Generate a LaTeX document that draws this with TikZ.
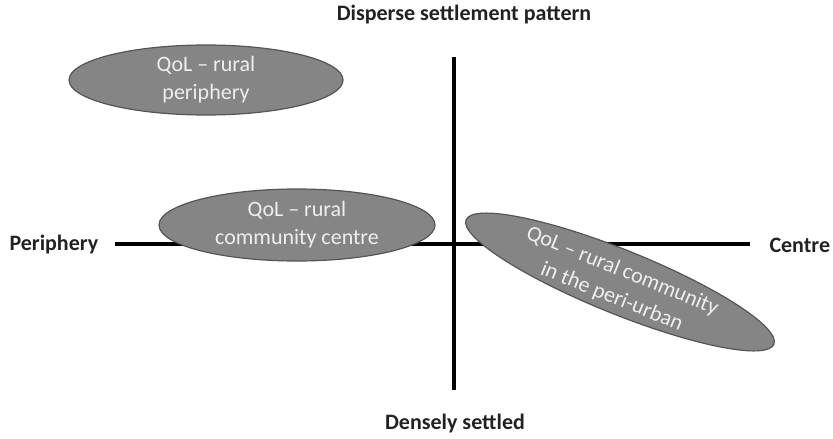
\documentclass[tikz,border=0pt]{standalone}
\usepackage{fontspec}
\setmainfont{Carlito}
\usetikzlibrary{shapes.geometric}
\definecolor{ellfill}{HTML}{858585}
\definecolor{elldraw}{HTML}{555555}
\definecolor{elltext}{HTML}{EEEEEE}
\definecolor{labtext}{HTML}{222222}
\tikzset{
  axis/.style={line width=4pt, black},
  blob/.style={ellipse, fill=ellfill, draw=elldraw, line width=1.2pt, inner sep=0pt},
  blobtext/.style={text=elltext, align=center, font=\fontsize{22}{28}\selectfont},
  axislabel/.style={text=labtext, font=\fontsize{22}{26}\selectfont\bfseries}
}
\begin{document}
\begin{tikzpicture}[x=1pt,y=-1pt]
\useasboundingbox (0,0) rectangle (833,439);
% axes
\coordinate (ytop) at (454,57);
\coordinate (ybot) at (454,390);
\coordinate (xleft) at (115,244);
\coordinate (xright) at (750,244);
\draw[axis] (ytop) -- (ybot);
\draw[axis] (xleft) -- (xright);
% axis labels
\node[axislabel] (top) at (464,15) {Disperse settlement pattern};
\node[axislabel] (bottom) at (455,424) {Densely settled};
\node[axislabel, anchor=west] (left) at (6,245) {Periphery};
\node[axislabel, anchor=west] (right) at (766,245) {Centre};
% ellipses
\node[blob, minimum width=274, minimum height=70] (e1) at (206,80) {};
\node[blobtext] (t1) at (e1.center) {QoL – rural\\periphery};
\node[blob, minimum width=276, minimum height=72] (e2) at (297,225) {};
\node[blobtext] (t2) at (e2.center) {QoL – rural\\community centre};
\node[blob, rotate=-22, minimum width=332, minimum height=64] (e3) at (620,282) {};
\node[blobtext, rotate=-22] (t3) at (617,284) {QoL – rural community\\in the peri-urban};
\end{tikzpicture}
\end{document}
